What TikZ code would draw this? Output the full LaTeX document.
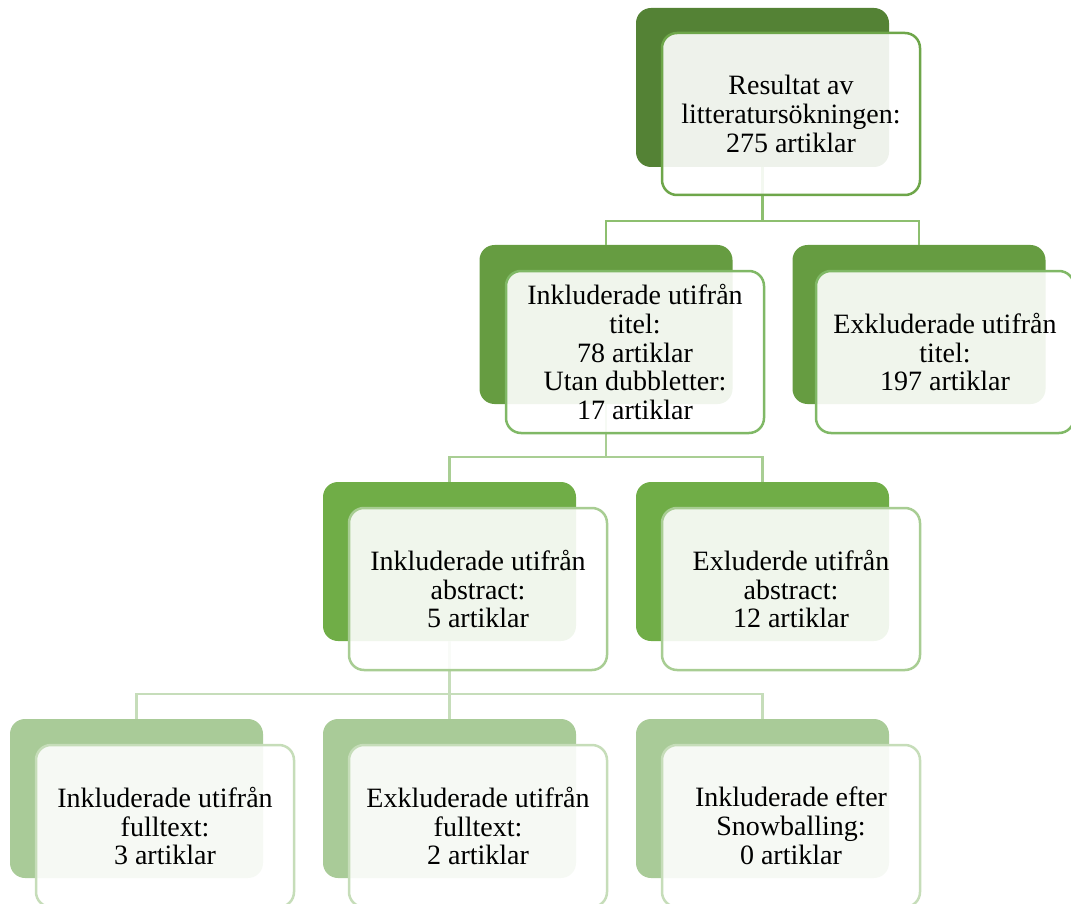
\documentclass[tikz,border=0pt]{standalone}
\usepackage{fontspec}
\setmainfont{Liberation Serif}
\definecolor{bkA}{HTML}{548235}
\definecolor{bkB}{HTML}{669C41}
\definecolor{bkC}{HTML}{70AD47}
\definecolor{bkD}{HTML}{A9CB98}
\definecolor{frA}{HTML}{6EA64A}
\definecolor{frB}{HTML}{80B866}
\definecolor{frC}{HTML}{A8CD93}
\definecolor{frD}{HTML}{C6DDB9}
\definecolor{cnA}{HTML}{8DBF6F}
\definecolor{cnB}{HTML}{A9CE94}
\definecolor{cnC}{HTML}{C6DDBA}
\tikzset{
  backbox/.style={draw=none, fill=#1, rounded corners=15pt, minimum width=253pt, minimum height=159pt, inner sep=0pt},
  frontbox/.style={draw=#1, line width=2.5pt, fill=white, fill opacity=0.9, text opacity=1, rounded corners=15pt, minimum width=258pt, minimum height=162pt, inner sep=0pt, align=center, font=\fontsize{28}{28.8}\selectfont},
  conn/.style={draw=#1, line width=2.5pt},
}
\begin{document}
\begin{tikzpicture}[x=1pt,y=-1pt]
\useasboundingbox (0,0) rectangle (1071,904);
\clip (0,0) rectangle (1071,904);
% back boxes
\node[backbox=bkA] (b1) at (762.5,87.5) {};
\node[backbox=bkB] (b2a) at (606,324.5) {};
\node[backbox=bkB] (b2b) at (919,324.5) {};
\node[backbox=bkC] (b3a) at (449.5,561.5) {};
\node[backbox=bkC] (b3b) at (762.5,561.5) {};
\node[backbox=bkD] (b4a) at (136.5,798.5) {};
\node[backbox=bkD] (b4b) at (449.5,798.5) {};
\node[backbox=bkD] (b4c) at (762.5,798.5) {};
% connectors
\draw[conn=cnA] (b1.south) -- ++(0,54) -| (b2a.north);
\draw[conn=cnA] (b1.south) -- ++(0,54) -| (b2b.north);
\draw[conn=cnB] (b2a.south) -- ++(0,53) -| (b3a.north);
\draw[conn=cnB] (b2a.south) -- ++(0,53) -| (b3b.north);
\draw[conn=cnC] (b3a.south) -- ++(0,53) -| (b4a.north);
\draw[conn=cnC] (b3a.south) -- ++(0,53) -| (b4b.north);
\draw[conn=cnC] (b3a.south) -- ++(0,53) -| (b4c.north);
% front boxes
\node[frontbox=frA] (f1) at (791,114) {Resultat av\\litteratursökningen:\\275 artiklar};
\node[frontbox=frB] (f2a) at (635,352) {Inkluderade utifrån\\titel:\\78 artiklar\\Utan dubbletter:\\17 artiklar};
\node[frontbox=frB] (f2b) at (945,352) {Exkluderade utifrån\\titel:\\197 artiklar};
\node[frontbox=frC] (f3a) at (478,589) {Inkluderade utifrån\\abstract:\\5 artiklar};
\node[frontbox=frC] (f3b) at (791,589) {Exluderde utifrån\\abstract:\\12 artiklar};
\node[frontbox=frD] (f4a) at (165,826) {Inkluderade utifrån\\fulltext:\\3 artiklar};
\node[frontbox=frD] (f4b) at (478,826) {Exkluderade utifrån\\fulltext:\\2 artiklar};
\node[frontbox=frD] (f4c) at (791,826) {Inkluderade efter\\Snowballing:\\0 artiklar};
\end{tikzpicture}
\end{document}
